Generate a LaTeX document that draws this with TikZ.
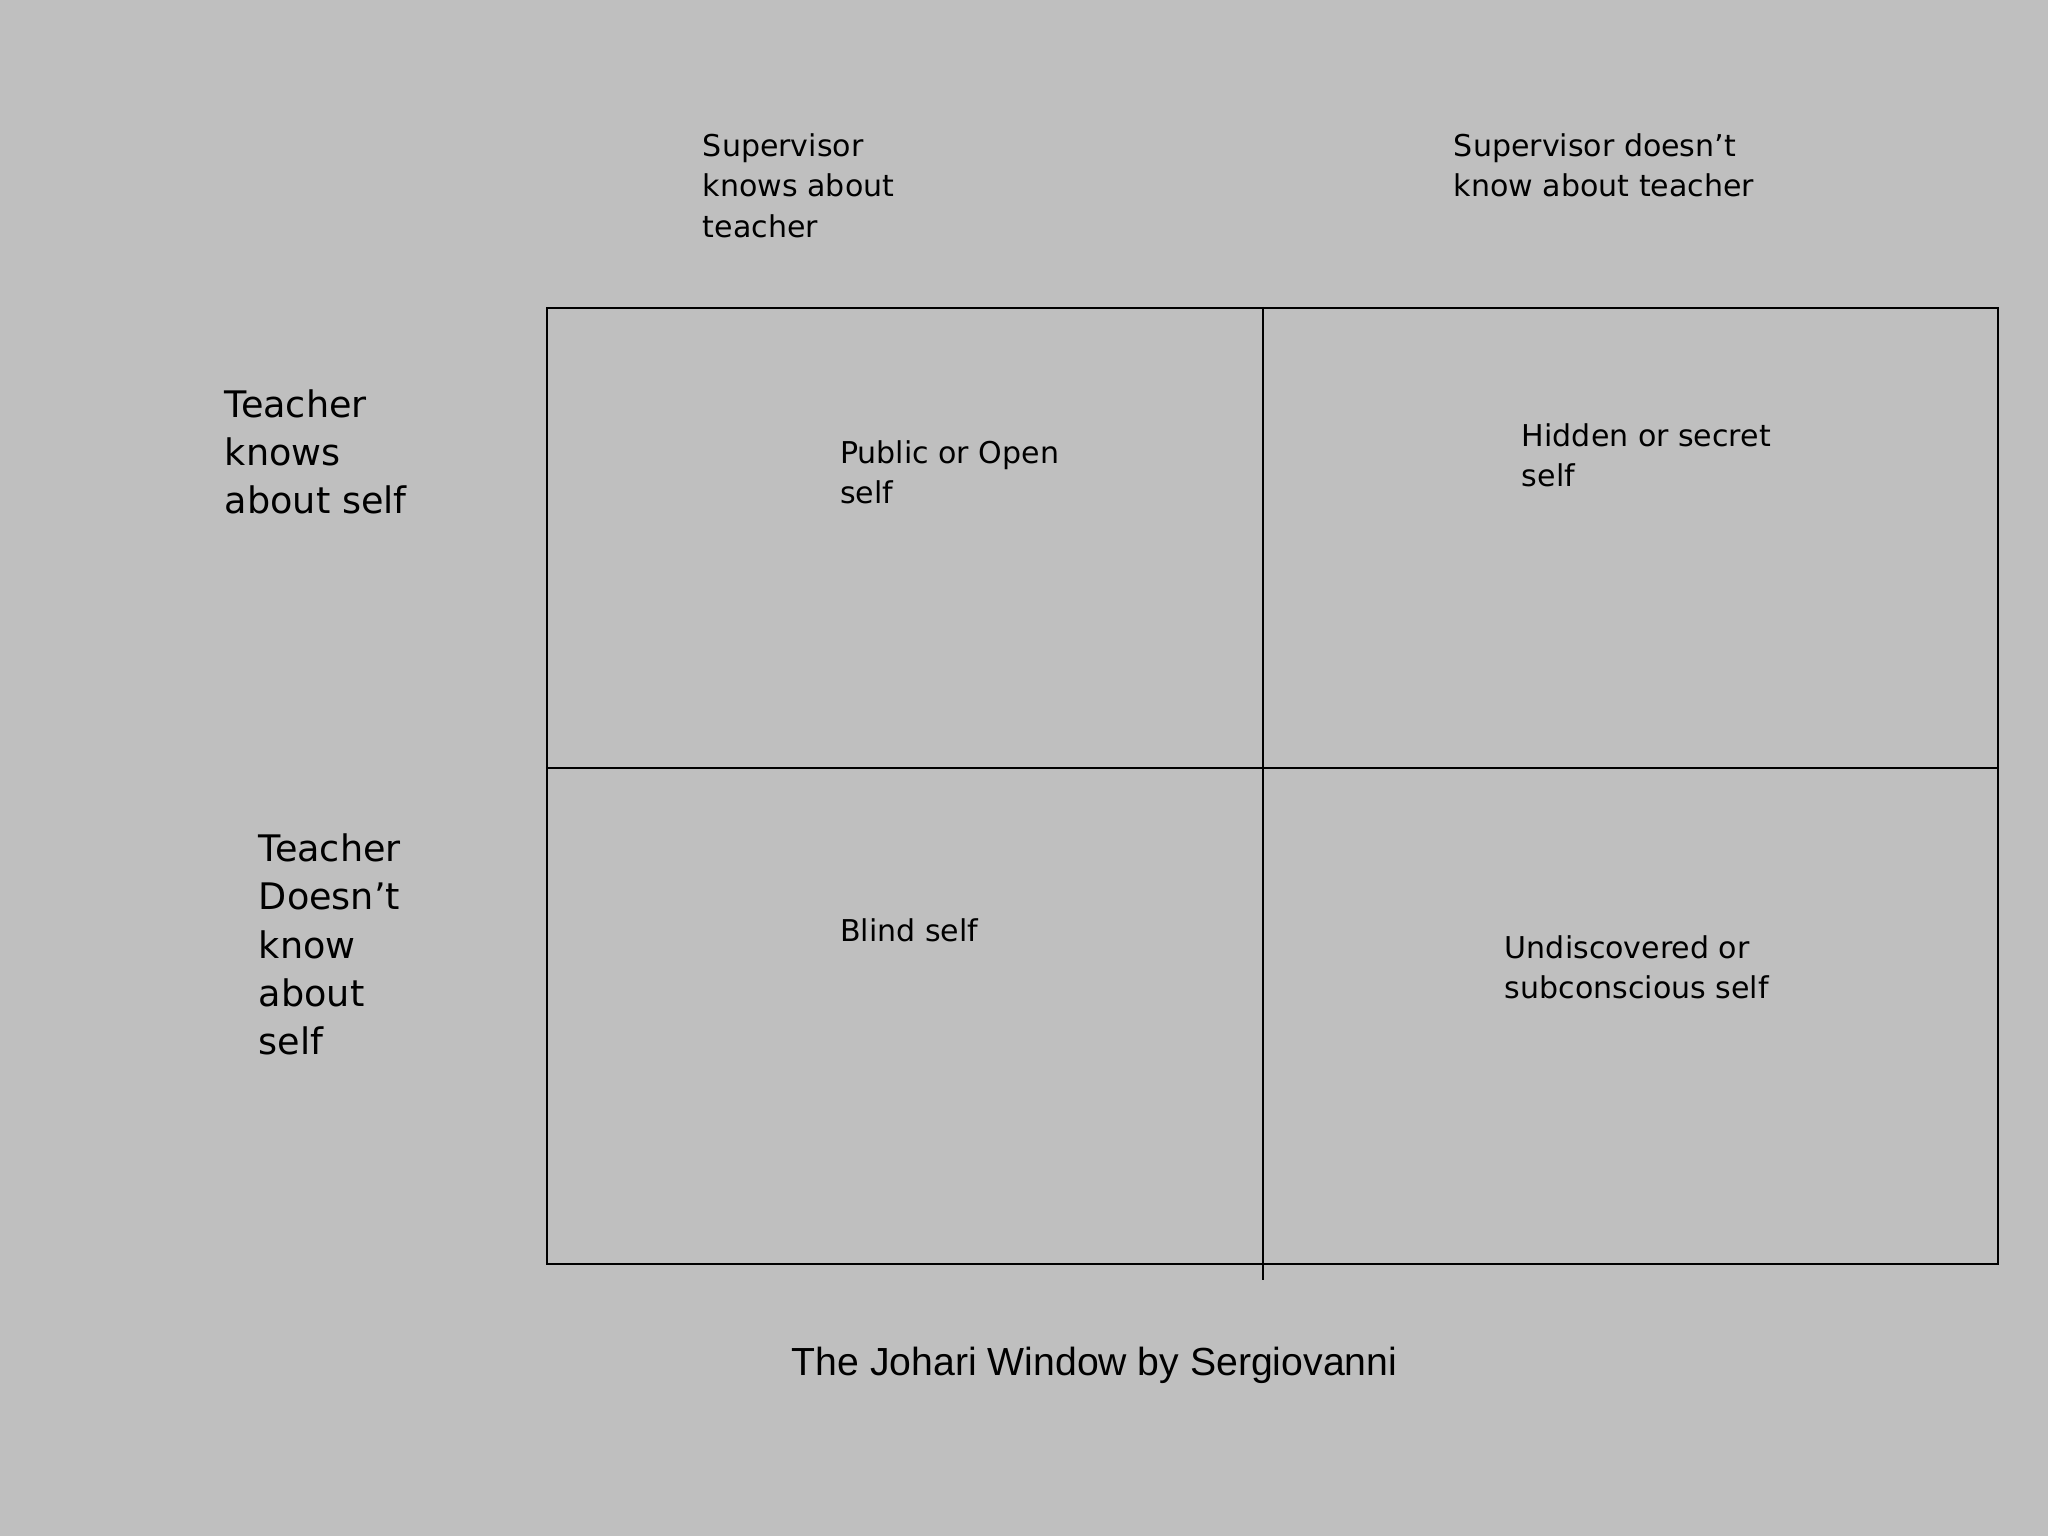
\documentclass[tikz,border=0pt]{standalone}
\usepackage{fontspec}
\setmainfont{DejaVu Sans}
\newfontfamily\arialf{Liberation Sans}
\begin{document}
\begin{tikzpicture}[x=1pt,y=-1pt,
  lbl/.style={anchor=north west,align=left,inner sep=0pt,font=\fontsize{23}{31}\selectfont},
  side/.style={anchor=north west,align=left,inner sep=0pt,font=\fontsize{28}{37}\selectfont},
  ln/.style={line width=1.6pt}]
\useasboundingbox[fill={rgb,255:red,191;green,191;blue,191}] (0,0) rectangle (1568,1176);
\node[draw,ln,minimum width=1111pt,minimum height=732pt,anchor=north west,inner sep=0pt] (box) at (418,235) {};
\coordinate (vt) at (967,235); \coordinate (vb) at (967,980);
\coordinate (hl) at (418,588); \coordinate (hr) at (1529,588);
\draw[line width=1.2pt] (vt) -- (vb);
\draw[line width=1.2pt] (hl) -- (hr);
\node[lbl] (c1) at (538,102) {Supervisor\\knows about\\teacher};
\node[lbl] (c2) at (1113,102) {Supervisor doesn’t\\know about teacher};
\node[side] (r1) at (172,298) {Teacher\\knows\\about self};
\node[side] (r2) at (198,638) {Teacher\\Doesn’t\\know\\about\\self};
\node[lbl] (q1) at (643,337) {Public or Open\\self};
\node[lbl] (q2) at (1165,324) {Hidden or secret\\self};
\node[lbl] (q3) at (643,703) {Blind self};
\node[lbl] (q4) at (1152,716) {Undiscovered or\\subconscious self};
\node[anchor=north west,inner sep=0pt,font=\arialf\fontsize{30}{36}\selectfont] (t) at (606,1031) {The Johari Window by Sergiovanni};
\end{tikzpicture}
\end{document}
